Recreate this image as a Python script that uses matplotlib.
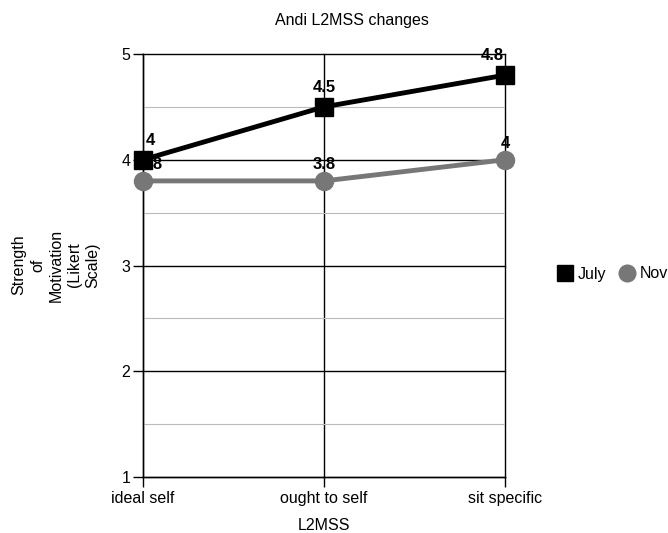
import matplotlib.pyplot as plt
import numpy as np
from matplotlib.lines import Line2D

categories = ["ideal self", "ought to self", "sit specific"]
july = [4, 4.5, 4.8]
nov = [3.8, 3.8, 4]
july_labels = ["4", "4.5", "4.8"]
nov_labels = ["3.8", "3.8", "4"]

plt.rcParams['font.family'] = ['Liberation Sans', 'DejaVu Sans']

fig = plt.figure(figsize=(6.68, 5.33), dpi=100)
ax = fig.add_axes([143/668, 1 - 477/533, (505 - 143)/668, (477 - 54)/533])

x = np.arange(len(categories))
ax.plot(x, july, color="black", lw=3.5, marker="s", ms=13, zorder=4, clip_on=False)
ax.plot(x, nov, color="#777777", lw=3.5, marker="o", ms=13, zorder=3, clip_on=False)

# labels nudged inward at the ends, like the original
dx = [5, 0, -9]
for xi, v, s, d in zip(x, july, july_labels, dx):
    ax.annotate(s, (xi, v), xytext=(d, 14), textcoords="offset points",
                ha="center", va="center", fontsize=12, fontweight="bold", zorder=5)
dx = [6, 0, 0]
for xi, v, s, d in zip(x, nov, nov_labels, dx):
    ax.annotate(s, (xi, v), xytext=(d, 12), textcoords="offset points",
                ha="center", va="center", fontsize=12, fontweight="bold", zorder=2)

ax.set_xlim(0, 2)
ax.set_ylim(1, 5)
ax.set_xticks(x)
ax.set_xticklabels(categories, fontsize=11.5)
ax.set_yticks([1, 2, 3, 4, 5])
ax.set_yticks([1.5, 2.5, 3.5, 4.5], minor=True)
ax.tick_params(axis="y", which="minor", length=0)
ax.tick_params(axis="both", which="major", length=7, width=1, labelsize=11.5, pad=2)
ax.tick_params(axis="x", which="major", pad=3)
ax.grid(True, which="major", color="black", lw=1)
ax.grid(True, which="minor", axis="y", color="#bbbbbb", lw=0.8)
for gl in ax.get_xgridlines() + ax.get_ygridlines():
    gl.set_clip_on(False)
for sp in ["top", "right"]:
    ax.spines[sp].set_visible(False)
ax.spines["left"].set_linewidth(1)
ax.spines["bottom"].set_linewidth(1)

ax.set_xlabel("L2MSS", fontsize=11.5, labelpad=9)
fig.text(56/668, 1 - 265/533, "Strength\nof\nMotivation\n(Likert\nScale)", rotation=90,
         ha="center", va="center", fontsize=11.5, linespacing=1.3)
fig.text(352/668, 1 - 20/533, "Andi L2MSS changes", ha="center", va="center", fontsize=11.5)

handles = [Line2D([], [], color="black", marker="s", ls="none", ms=12),
           Line2D([], [], color="#777777", marker="o", ms=12, ls="none")]
fig.legend(handles, ["July", "Nov"], loc="center left", bbox_to_anchor=(555/668, 1 - 274/533),
           frameon=False, ncol=2, fontsize=11.5, handletextpad=0.2, columnspacing=0.7,
           handlelength=1.2, borderaxespad=0, borderpad=0)

fig.savefig("out.png", dpi=100)
